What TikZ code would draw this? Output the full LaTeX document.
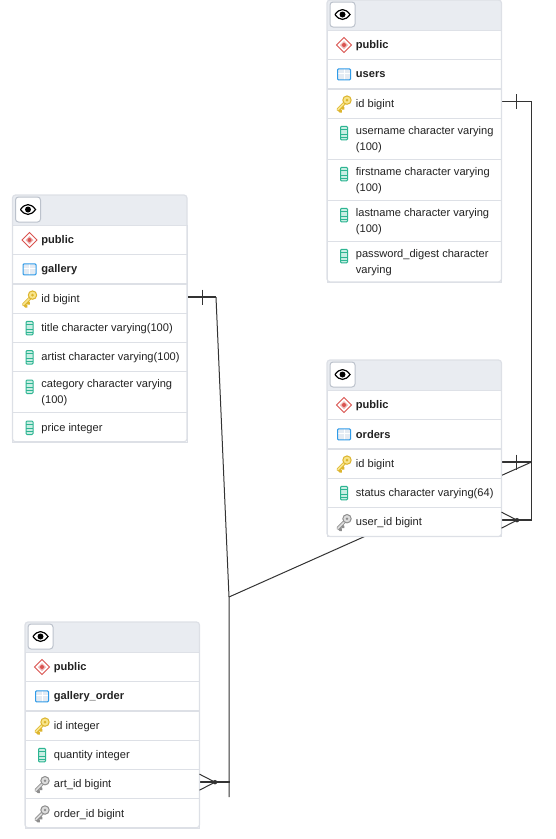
\documentclass[tikz,border=0pt]{standalone}
\usepackage{fontspec}
\setmainfont{Liberation Sans}
\usetikzlibrary{positioning,backgrounds}
\definecolor{headfill}{HTML}{E9ECF1}
\definecolor{rowline}{HTML}{DDE0E6}
\definecolor{btnline}{HTML}{BCC2CC}
\definecolor{rowtext}{HTML}{222222}
\definecolor{schemared}{HTML}{D9534F}
\definecolor{tableblue}{HTML}{2F9BE8}
\definecolor{tablefill}{HTML}{E4EBF3}
\definecolor{keygold}{HTML}{DDB52E}
\definecolor{keyfill}{HTML}{F8E58C}
\definecolor{fkgray}{HTML}{8E8E8E}
\definecolor{fkfill}{HTML}{DDDDDD}
\definecolor{colteal}{HTML}{2DB592}
\definecolor{colfill}{HTML}{C8EEE3}
\definecolor{connect}{HTML}{333333}
\tikzset{
  rowbox/.style={draw=rowline,fill=white,minimum width=174.5pt,inner sep=0pt,outer sep=0pt},
  headbox/.style={minimum width=174.5pt,minimum height=30pt,inner sep=0pt,outer sep=0pt},
  rowlabel/.style={anchor=west,inner sep=0pt,align=left,text=rowtext,font=\fontsize{11.1}{16}\selectfont},
  connline/.style={draw=connect,line width=1pt},
  stubline/.style={draw=connect,line width=1.5pt},
  tickline/.style={draw=connect,line width=1pt},
  eyeicon/.pic={
    \draw[btnline,fill=white,line width=1pt,rounded corners=3pt] (-12.5,-12.5) rectangle (12.5,12.5);
    \draw[black,line width=1.2pt] (-7.5,0) .. controls (-3,-6.5) and (3,-6.5) .. (7.5,0) .. controls (3,6.5) and (-3,6.5) .. (-7.5,0);
    \fill[black] (0,0) circle (3);
  },
  schemaicon/.pic={
    \draw[schemared,line width=1pt,fill=white] (-7.5,0) -- (0,-7.5) -- (7.5,0) -- (0,7.5) -- cycle;
    \fill[schemared!45] (-4,0) -- (0,-4) -- (4,0) -- (0,4) -- cycle;
    \fill[schemared] (0,0) circle (2);
  },
  tableicon/.pic={
    \fill[tablefill] (-6.5,-5.5) rectangle (6.5,5.5);
    \draw[white,line width=1pt] (-6.5,-1) -- (6.5,-1) (0,-5.5) -- (0,5.5);
    \draw[tableblue,line width=1pt,rounded corners=1pt] (-6.5,-5.5) rectangle (6.5,5.5);
  },
  keyicon/.pic={
    \draw[keygold,line width=3.2pt,line cap=round] (1,-1) -- (-6,6) (-5.5,5.5) -- (-3.2,7.8) (-2.8,2.8) -- (-.8,4.8);
    \draw[keyfill,line width=1.6pt,line cap=round] (1,-1) -- (-6,6);
    \draw[keygold,fill=keyfill,line width=1pt] (3,-3.5) circle (4.2);
    \fill[keygold] (3,-3.5) circle (1.4);
  },
  fkicon/.pic={
    \draw[fkgray,line width=3.2pt,line cap=round] (1,-1) -- (-6,6) (-5.5,5.5) -- (-3.2,7.8) (-2.8,2.8) -- (-.8,4.8);
    \draw[fkfill,line width=1.6pt,line cap=round] (1,-1) -- (-6,6);
    \draw[fkgray,fill=fkfill,line width=1pt] (3,-3.5) circle (4.2);
    \fill[fkgray] (3,-3.5) circle (1.4);
  },
  colicon/.pic={
    \draw[colteal,fill=colfill,line width=1pt,rounded corners=1pt] (-3.5,-6.5) rectangle (3.5,7);
    \draw[colteal,line width=.8pt] (-3.5,-3.5) -- (3.5,-3.5) (-3.5,1) -- (3.5,1) (-3.5,4) -- (3.5,4);
  },
  onemark/.pic={
    \draw[tickline] (15,-7.5) -- (15,7.5);
  },
  manymark/.pic={
    \draw[tickline] (0,-8) -- (15.5,0) -- (0,8);
    \fill[connect] (15.5,0) circle (2.2);
  }
}
% one row of a table, below the one named in #2
\newcommand{\dbrow}[5]{
  \node[rowbox,minimum height=#3pt,below=0pt of #2] (#1) {};
  \pic at ([shift={(17,15)}]#1.north west) {#4};
  \node[rowlabel] (#1label) at ([xshift=28.7pt,yshift=-1pt]#1.west) {#5};
}
% header fill, eye button, heavy rule and outer frame of a table
\newcommand{\dbframe}[2]{
  \fill[headfill,rounded corners=3pt] (#1head.south west) -- (#1head.north west) -- (#1head.north east) -- (#1head.south east);
  \pic at ([xshift=15.5pt,yshift=.5pt]#1head.west) {eyeicon};
  \draw[rowline,line width=2pt] (#1table.south west) -- (#1table.south east);
  \draw[rowline,line width=1.2pt,rounded corners=3pt] (#1head.north west) rectangle (#2.south east);
}
\begin{document}
\begin{tikzpicture}[x=1pt,y=-1pt]
\useasboundingbox (0,0) rectangle (555,839);
% users
\node[headbox,anchor=north west] (usershead) at (327,0) {};
\dbrow{usersschema}{usershead}{29.3}{schemaicon}{\textbf{public}}
\dbrow{userstable}{usersschema}{29.3}{tableicon}{\textbf{users}}
\dbrow{usersid}{userstable}{29.3}{keyicon}{id bigint}
\dbrow{usersname}{usersid}{41}{colicon}{username character varying\\(100)}
\dbrow{usersfirst}{usersname}{41}{colicon}{firstname character varying\\(100)}
\dbrow{userslast}{usersfirst}{41}{colicon}{lastname character varying\\(100)}
\dbrow{userspass}{userslast}{41}{colicon}{password\_digest character\\varying}
\dbframe{users}{userspass}
% gallery
\node[headbox,anchor=north west] (galleryhead) at (12.5,195) {};
\dbrow{galleryschema}{galleryhead}{29.3}{schemaicon}{\textbf{public}}
\dbrow{gallerytable}{galleryschema}{29.3}{tableicon}{\textbf{gallery}}
\dbrow{galleryid}{gallerytable}{29.3}{keyicon}{id bigint}
\dbrow{gallerytitle}{galleryid}{29.3}{colicon}{title character varying(100)}
\dbrow{galleryartist}{gallerytitle}{29.3}{colicon}{artist character varying(100)}
\dbrow{gallerycat}{galleryartist}{41}{colicon}{category character varying\\(100)}
\dbrow{galleryprice}{gallerycat}{29.3}{colicon}{price integer}
\dbframe{gallery}{galleryprice}
% orders
\node[headbox,anchor=north west] (ordershead) at (327,360) {};
\dbrow{ordersschema}{ordershead}{29.3}{schemaicon}{\textbf{public}}
\dbrow{orderstable}{ordersschema}{29.3}{tableicon}{\textbf{orders}}
\dbrow{ordersid}{orderstable}{29.3}{keyicon}{id bigint}
\dbrow{ordersstatus}{ordersid}{29.3}{colicon}{status character varying(64)}
\dbrow{ordersuser}{ordersstatus}{29.3}{fkicon}{user\_id bigint}
\dbframe{orders}{ordersuser}
% gallery_order
\node[headbox,anchor=north west] (ghead) at (25,622) {};
\dbrow{gschema}{ghead}{29.3}{schemaicon}{\textbf{public}}
\dbrow{gtable}{gschema}{29.3}{tableicon}{\textbf{gallery\_order}}
\dbrow{gid}{gtable}{29.3}{keyicon}{id integer}
\dbrow{gquantity}{gid}{29.3}{colicon}{quantity integer}
\dbrow{gart}{gquantity}{29.3}{fkicon}{art\_id bigint}
\dbrow{gorder}{gart}{29.3}{fkicon}{order\_id bigint}
\dbframe{g}{gorder}
% connectors
\coordinate (usersout) at ([yshift=1.7pt]usersid.east);
\coordinate (usersbend) at ([xshift=30pt]usersout);
\coordinate (fkout) at ([yshift=1.7pt]ordersuser.east);
\coordinate (fkbend) at ([xshift=30pt]fkout);
\coordinate (ordersout) at ([yshift=1.2pt]ordersid.east);
\coordinate (ordersbend) at ([xshift=30pt]ordersout);
\coordinate (galleryout) at ([yshift=1.2pt]galleryid.east);
\coordinate (gallerybend) at ([xshift=29pt]galleryout);
\coordinate (artout) at ([yshift=1.7pt]gart.east);
\coordinate (artbend) at ([xshift=30pt]artout);
\coordinate (joint) at (229,597);
\coordinate (trunkend) at (229,797);
\begin{scope}[on background layer]
\draw[connline] (usersbend) -- (fkbend);
\draw[connline] (ordersbend) -- (joint);
\draw[connline] (gallerybend) -- (joint) -- (trunkend);
\draw[stubline] (usersout) -- (usersbend);
\draw[stubline] (fkout) -- (fkbend);
\draw[stubline] (ordersout) -- (ordersbend);
\draw[stubline] (galleryout) -- (gallerybend);
\draw[stubline] (artout) -- (artbend);
\end{scope}
\pic at (usersout) {onemark};
\pic at (ordersout) {onemark};
\pic at (galleryout) {onemark};
\pic at (fkout) {manymark};
\pic at (artout) {manymark};
\end{tikzpicture}
\end{document}
